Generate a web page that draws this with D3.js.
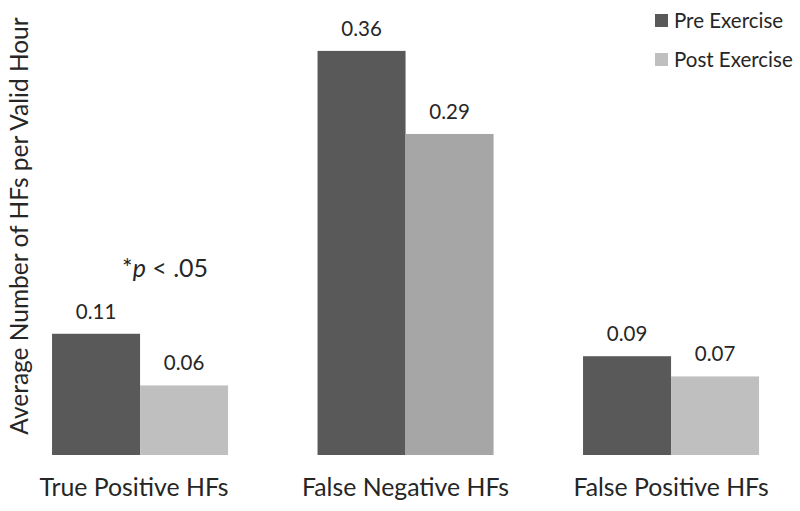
<!DOCTYPE html>
<html><head><meta charset="utf-8">
<script src="https://cdn.jsdelivr.net/npm/d3@7"></script>
<style>body{margin:0;background:#fff}svg{display:block}text{font-family:Lato,"Open Sans",sans-serif;fill:#262626}</style>
</head><body><div id="chart"></div>
<script>
const categories = ["True Positive HFs", "False Negative HFs", "False Positive HFs"];
const seriesNames = ["Pre Exercise", "Post Exercise"];
const preValues = [0.108, 0.36, 0.088];
const postValues = [0.062, 0.286, 0.070];
const valueLabels = [["0.11","0.06"],["0.36","0.29"],["0.09","0.07"]];
const sigNote = "p < .05";
const yTitle = "Average Number of HFs per Valid Hour";

const W = 800, H = 511;
const svg = d3.select("#chart").append("svg").attr("width", W).attr("height", H);

const x = d3.scaleBand().domain(categories).range([7.3, 803.8]).paddingInner(0.337).paddingOuter(0.1685);
const xs = d3.scaleBand().domain(seriesNames).range([0, x.bandwidth()]);
const y = d3.scaleLinear().domain([0, 0.4]).range([455, 6]);

const colorPre = "#595959";
const colorPost = ["#bfbfbf", "#a6a6a6", "#bfbfbf"];

const rows = categories.map((c, i) => ({c, i, vals: [preValues[i], postValues[i]]}));
const g = svg.selectAll("g.grp").data(rows).join("g").attr("class","grp")
  .attr("transform", d => `translate(${x(d.c)},0)`);
g.selectAll("rect").data(d => d.vals.map((v, k) => ({v, k, i: d.i}))).join("rect")
  .attr("x", d => xs(seriesNames[d.k]))
  .attr("width", xs.bandwidth())
  .attr("y", d => y(d.v))
  .attr("height", d => y(0) - y(d.v))
  .attr("fill", d => d.k === 0 ? colorPre : colorPost[d.i]);
g.selectAll("text.val").data(d => d.vals.map((v, k) => ({v, k, i: d.i}))).join("text").attr("class","val")
  .attr("x", d => xs(seriesNames[d.k]) + xs.bandwidth()/2)
  .attr("y", d => y(d.v) - 15)
  .attr("text-anchor","middle").attr("font-size", 20.5)
  .text(d => valueLabels[d.i][d.k]);

// x axis labels
const xAxis = d3.axisBottom(x).tickSize(0).tickPadding(0);
const ax = svg.append("g").attr("transform", `translate(0,${y(0)})`).call(xAxis);
ax.select(".domain").remove();
ax.selectAll("text").attr("font-size", 24.8).attr("dy", 0).attr("y", 41)
  .attr("dx", (d, i) => i === 0 ? -6 : 0)
  .style("font-family","Lato,sans-serif").attr("fill","#262626");

// y title
svg.append("text").attr("transform", `translate(28,226) rotate(-90)`).attr("text-anchor","middle")
  .attr("font-size", 24.5).text(yTitle);

// significance note
const note = svg.append("text").attr("x", 122).attr("y", 277).attr("font-size", 25);
note.append("tspan").text("*");
note.append("tspan").attr("font-style","italic").text("p");
note.append("tspan").text(sigNote.slice(1));

// legend
const leg = svg.append("g").selectAll("g").data(seriesNames).join("g")
  .attr("transform", (d, i) => `translate(655,${14 + i*39})`);
leg.append("rect").attr("width", 13).attr("height", 13).attr("fill", (d, i) => i === 0 ? colorPre : colorPost[0]);
leg.append("text").attr("x", 19).attr("y", 14).attr("font-size", 20.5).text(d => d);
</script></body></html>
